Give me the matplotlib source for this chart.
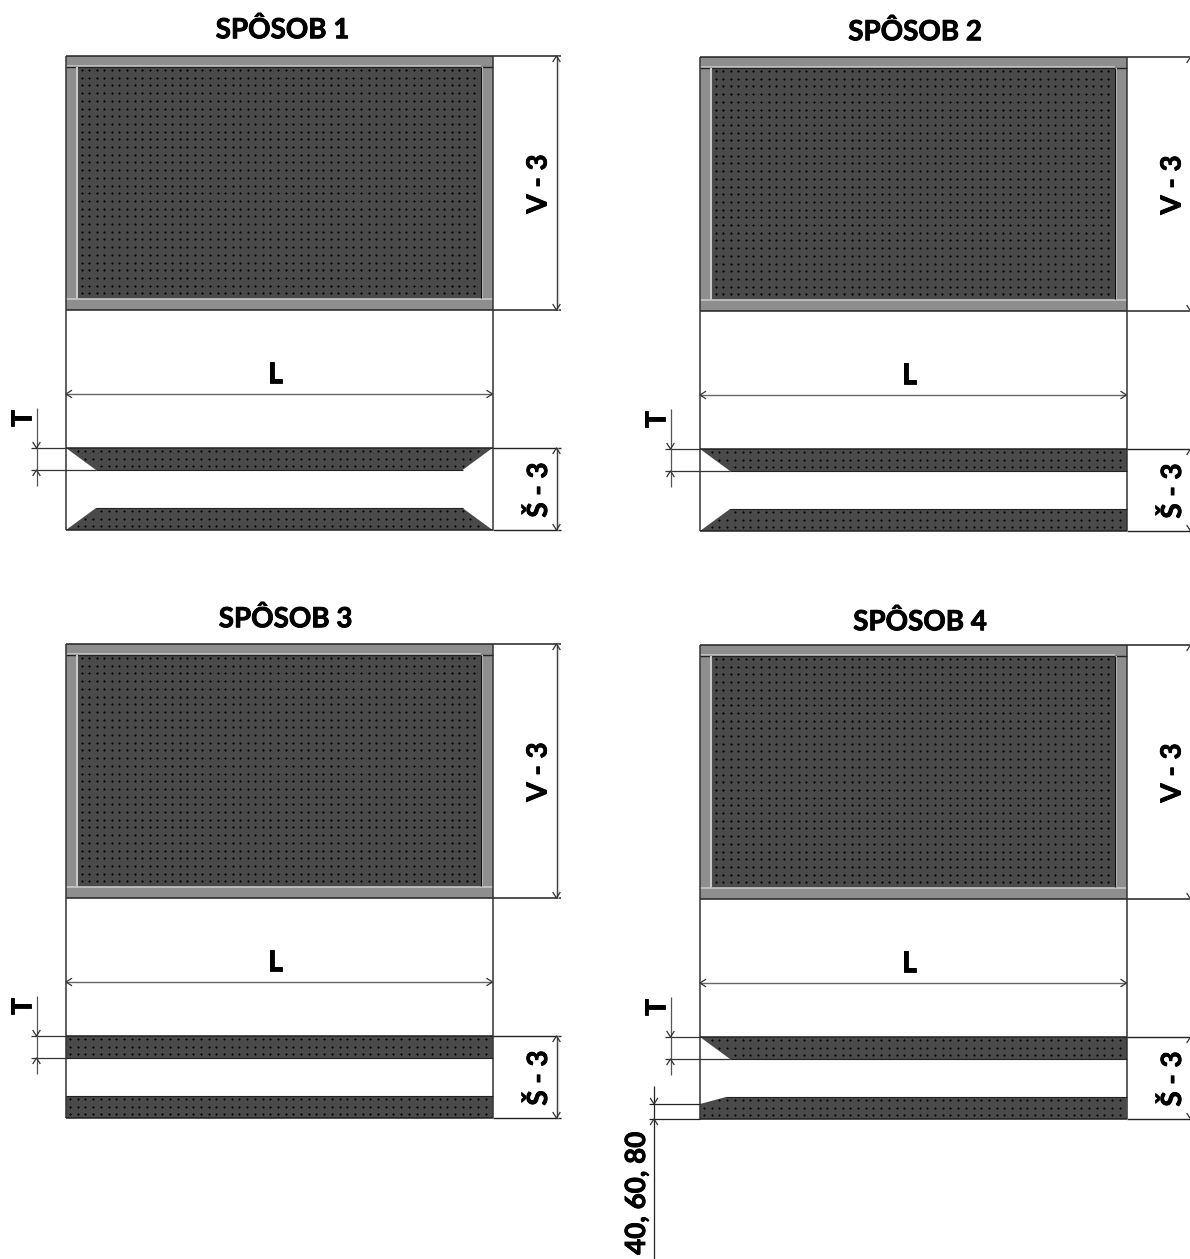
import numpy as np
import matplotlib
matplotlib.use("Agg")
import matplotlib.pyplot as plt
import matplotlib.patheffects as pe
from matplotlib.patches import Rectangle, Polygon
from matplotlib.path import Path

W, H = 1190, 1259
titles = ["SPÔSOB 1", "SPÔSOB 2", "SPÔSOB 3", "SPÔSOB 4"]
origins_x = [66, 700, 66, 700]
origins_y = [56, 57, 644, 645]
title_x = [282.5, 915, 285.5, 920]
title_y = [30, 32, 619, 622]
chamfer_top = [(30, 22), (30, 22), (0, 0), (30, 22)]
chamfer_bot = [(30, 22), (30, 22), (0, 0), (26, 7)]
chamfer_right = [True, False, False, False]
label_L = "L"
label_V = "V - 3"
label_S = "Š - 3"
label_T = "T"
label_extra = "40, 60, 80"

FW, FH = 426.5, 254
DARK, FRAME, LIGHT, LINE = "#4a4a4a", "#8e8e8e", "#c8c8c8", "#222222"
FS = 20
BOLD = dict(fontsize=FS, fontweight="bold", color="black",
            path_effects=[pe.withStroke(linewidth=0.6, foreground="black")])

plt.rcParams["font.family"] = ["Lato", "DejaVu Sans"]
fig = plt.figure(figsize=(W / 100, H / 100), dpi=100)
ax = fig.add_axes([0, 0, 1, 1])
ax.set_xlim(0, W)
ax.set_ylim(H, 0)
ax.axis("off")


def hl(y, x0, x1, c=LINE, lw=1.0, z=5):
    ax.plot([x0, x1], [y, y], color=c, lw=lw, solid_capstyle="butt", zorder=z)


def vl(x, y0, y1, c=LINE, lw=1.0, z=5):
    ax.plot([x, x], [y0, y1], color=c, lw=lw, solid_capstyle="butt", zorder=z)


def arrow(x, y, dx, dy):
    s = 5.5
    if dx:
        pts = [(x + dx * s, y - 3.5), (x, y), (x + dx * s, y + 3.5)]
    else:
        pts = [(x - 3.5, y + dy * s), (x, y), (x + 3.5, y + dy * s)]
    ax.plot(*zip(*pts), color="#333333", lw=0.9, zorder=6)


def dots(x0, x1, y0, y1, dx=7.55, dy=7.7):
    gx, gy = np.meshgrid(np.arange(x0, x1, dx), np.arange(y0, y1, dy))
    return gx.ravel(), gy.ravel()


def section_dots(poly, x0, x1, y0, y1):
    px, py = dots(x0 + 4, x1, y0 + 3, y1, dx=7.7, dy=7.5)
    path = Path(poly + [poly[0]])
    pts = np.column_stack([px, py])
    keep = np.ones(len(pts), bool)
    for ox in (-3, 3):
        keep &= path.contains_points(pts + [ox, 0])
    ax.scatter(px[keep], py[keep], marker="+", s=3.5, c="black", linewidths=0.8, zorder=3)


for k in range(4):
    x0, y0 = origins_x[k], origins_y[k]
    x1, y1 = x0 + FW, y0 + FH
    ax.text(title_x[k], title_y[k], titles[k], ha="center", va="center", **BOLD)

    # front view: frame bars and perforated panel
    ax.add_patch(Rectangle((x0, y0), FW, FH, fc=FRAME, ec="none", zorder=1))
    ax.add_patch(Rectangle((x0 + 12, y0 + 11), FW - 24, FH - 22, fc=DARK, ec="none", zorder=2))
    hl(y0 + 9.5, x0, x1 - 12, LIGHT, 1.2, 3)
    hl(y0 + 11, x0, x1, "#222222", 1.0, 3)
    hl(y1 - 11.5, x0, x1, LIGHT, 1.2, 3)
    vl(x0 + 11, y0 + 11, y1 - 12, LIGHT, 1.5, 3)
    vl(x1 - 10.5, y0 + 11, y1 - 12, LIGHT, 1.5, 3)
    vl(x1 - 11.8, y0 + 11, y1 - 12, "#111111", 0.9, 3)
    dx_, dy_ = dots(x0 + 15.7, x1 - 12, y0 + 14, y1 - 12)
    ax.scatter(dx_, dy_, marker="+", s=3.5, c="black", linewidths=0.85, zorder=3)

    # extension lines
    hl(y0, x0, x1 + 68, "#222222", 1.1)
    hl(y1, x0, x1 + 68, "#222222", 1.1)
    vl(x0, y0, y0 + 474, "#333333", 1.1)
    vl(x1, y0, y0 + 474, "#333333", 1.1)

    # V dimension
    vl(x1 + 64, y0, y1, "#222222", 1.0)
    vl(x1 + 65.2, y0, y1, "#cccccc", 1.0)
    arrow(x1 + 64, y0, 0, 1)
    arrow(x1 + 64, y1, 0, -1)
    ax.text(x1 + 46, y0 + 128, label_V, rotation=90, ha="center", va="center", **BOLD)

    # L dimension
    hl(y0 + 338, x0, x1, "#666666", 1.0)
    arrow(x0, y0 + 338, 1, 0)
    arrow(x1, y0 + 338, -1, 0)
    ax.text(x0 + 209, y0 + 318.5, label_L, ha="center", va="center", **BOLD)

    # section view
    ty0, ty1 = y0 + 392, y0 + 414
    by0, by1 = y0 + 452, y0 + 474
    cx, cy = chamfer_top[k]
    bx, by = chamfer_bot[k]
    right = chamfer_right[k]
    rt = x1 - cx if right else x1
    rb = x1 - bx if right else x1
    top = [(x0, ty0), (x1, ty0), (rt, ty1), (x0 + cx, ty1)]
    if k == 3:
        bot = [(x0, by1), (x1, by1), (x1, by0), (x0 + bx, by0), (x0, by0 + by)]
    else:
        bot = [(x0, by1), (x1, by1), (rb, by0), (x0 + bx, by0)]
    ax.add_patch(Polygon(top, closed=True, fc=DARK, ec="none", zorder=2))
    ax.add_patch(Polygon(bot, closed=True, fc=DARK, ec="none", zorder=2))
    section_dots(top, x0, x1, ty0, ty1)
    section_dots(bot, x0, x1, by0, by1)
    hl(by1, x0, x1, "#222222", 1.1)
    hl(by0, x0 + bx, rb, "#222222", 0.8)
    hl(ty0, x0, x1, "#222222", 1.1)
    hl(ty1, x0 + cx, rt, "#222222", 0.8)

    # right section dimension
    hl(ty0, x1, x1 + 68, "#222222", 1.0)
    hl(by1, x1, x1 + 68, "#222222", 1.0)
    vl(x1 + 64, ty0, by1, "#222222", 1.0)
    vl(x1 + 65.2, ty0, by1, "#cccccc", 1.0)
    arrow(x1 + 64, ty0, 0, 1)
    arrow(x1 + 64, by1, 0, -1)
    ax.text(x1 + 46, y0 + 434, label_S, rotation=90, ha="center", va="center", **BOLD)

    # T dimension
    hl(ty0, x0 - 35, x0, "#333333", 0.9)
    hl(ty1, x0 - 35, x0 + cx, "#333333", 0.9)
    vl(x0 - 29.5, ty0 - 40, ty1 + 16, "#555555", 0.9)
    arrow(x0 - 29.5, ty0, 0, -1)
    arrow(x0 - 29.5, ty1, 0, 1)
    ax.text(x0 - 43, ty0 - 30, label_T, rotation=90, ha="center", va="center", **BOLD)

    if k == 3:
        ex = x0 - 46
        hl(by0 + by, ex - 5, x0, "#222222", 0.9)
        hl(by1, ex - 5, x0, "#222222", 0.9)
        vl(ex, by0 - 11, H, "#222222", 0.9)
        arrow(ex, by0 + by, 0, -1)
        arrow(ex, by1, 0, 1)
        ax.text(ex - 17, 1193, label_extra, rotation=90, ha="center", va="center", **BOLD)

fig.savefig("out.png", dpi=100, facecolor="white")
